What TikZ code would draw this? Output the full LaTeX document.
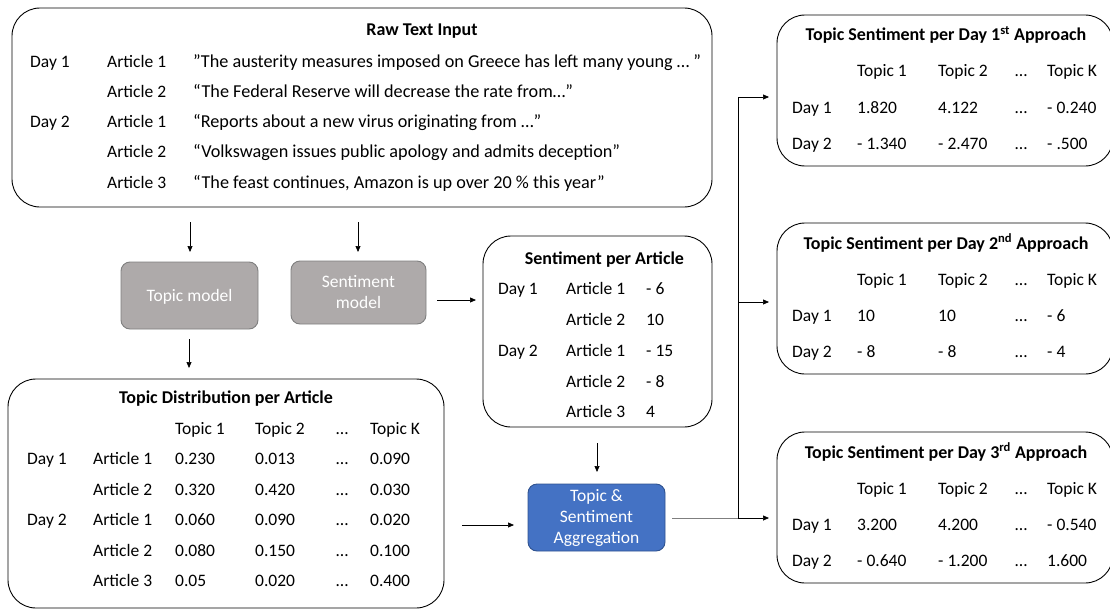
\documentclass[tikz,border=0pt]{standalone}
\usepackage{fontspec}
\setmainfont{Carlito}
\usetikzlibrary{arrows.meta}
\definecolor{graybox}{HTML}{AEAAAA}
\definecolor{grayline}{HTML}{7F7F7F}
\definecolor{bluebox}{HTML}{4472C4}
\definecolor{blueline}{HTML}{2F528F}
\tikzset{
  panel/.style={draw=black, line width=0.9pt, rounded corners=28pt},
  model/.style={draw=grayline, fill=graybox, line width=0.9pt, rounded corners=9pt},
  aggbox/.style={draw=blueline, fill=bluebox, line width=0.9pt, rounded corners=9pt},
  txt/.style={anchor=base west, inner sep=0pt, font=\fontsize{17.5}{20}\selectfont},
  qtxt/.style={anchor=base west, inner sep=0pt, font=\fontsize{18.2}{20}\selectfont},
  ttl/.style={anchor=base, inner sep=0pt, font=\fontsize{18}{20}\selectfont\bfseries},
  wtxt/.style={align=center, text=white, inner sep=0pt, font=\fontsize{17.5}{21}\selectfont},
  arr/.style={-{Triangle[length=6pt,width=5pt]}, line width=0.7pt},
  ln/.style={line width=0.7pt}
}
\newcommand{\approachbox}[9]{%
  % #1 top, #2 ordinal, #3 suffix, #4-#6 day1 values, #7-#9 day2 values
  \draw[panel] (777,#1) rectangle (1113,#1+151);
  \node[ttl] at (946,#1+26) {Topic Sentiment per Day #2\textsuperscript{#3} Approach};
  \node[txt] at (857,#1+62) {Topic 1};
  \node[txt] at (938,#1+62) {Topic 2};
  \node[txt] at (1015,#1+62) {…};
  \node[txt] at (1047,#1+62) {Topic K};
  \node[txt] at (792,#1+98) {Day 1};
  \node[txt] at (857,#1+98) {#4};
  \node[txt] at (938,#1+98) {#5};
  \node[txt] at (1015,#1+98) {…};
  \node[txt] at (1047,#1+98) {#6};
  \node[txt] at (792,#1+134) {Day 2};
  \node[txt] at (857,#1+134) {#7};
  \node[txt] at (938,#1+134) {#8};
  \node[txt] at (1015,#1+134) {…};
  \node[txt] at (1047,#1+134) {#9};
}
\begin{document}
\begin{tikzpicture}[x=1pt,y=-1pt]
\useasboundingbox (0,0) rectangle (1110,610);
% ---------- Raw text input ----------
\draw[panel] (12,8) rectangle (712,207);
\node[ttl] (rawt) at (422,36) {Raw Text Input};
\node[txt] (r1d) at (30,67) {Day 1};
\node[txt] (r1a) at (107,67) {Article 1};
\node[qtxt] (r1q) at (193,67) {”The austerity measures imposed on Greece has left many young … ”};
\node[txt] (r2a) at (107,97) {Article 2};
\node[qtxt] (r2q) at (193,97) {“The Federal Reserve will decrease the rate from…”};
\node[txt] (r3d) at (30,127) {Day 2};
\node[txt] (r3a) at (107,127) {Article 1};
\node[qtxt] (r3q) at (193,127) {“Reports about a new virus originating from …”};
\node[txt] (r4a) at (107,157) {Article 2};
\node[qtxt] (r4q) at (193,157) {“Volkswagen issues public apology and admits deception”};
\node[txt] (r5a) at (107,188) {Article 3};
\node[qtxt] (r5q) at (193,188) {“The feast continues, Amazon is up over 20 \% this year”};
\coordinate (a1s) at (190,222);
\coordinate (a2s) at (358,222);
% ---------- models ----------
\draw[model] (121,262) rectangle (258,329);
\node[wtxt] (topicm) at (189.5,297) {Topic model};
\draw[model] (291,261) rectangle (426,324);
\node[wtxt] (sentm) at (358.5,292.5) {Sentiment\\model};
\coordinate (a1e) at (190,252);
\coordinate (a2e) at (358,252);
\draw[arr] (a1s) -- (a1e);
\draw[arr] (a2s) -- (a2e);
% ---------- Sentiment per article ----------
\draw[panel] (483,236) rectangle (712,427);
\node[ttl] (spat) at (604.5,264) {Sentiment per Article};
\node[txt] at (498,294) {Day 1};
\node[txt] at (566,294) {Article 1};
\node[txt] at (646,294) {- 6};
\node[txt] at (566,325) {Article 2};
\node[txt] at (646,325) {10};
\node[txt] at (498,356) {Day 2};
\node[txt] at (566,356) {Article 1};
\node[txt] at (646,356) {- 15};
\node[txt] at (566,387) {Article 2};
\node[txt] at (646,387) {- 8};
\node[txt] at (566,417) {Article 3};
\node[txt] at (646,417) {4};
\coordinate (s1) at (437,300);
\coordinate (s2) at (476,300);
\draw[arr] (s1) -- (s2);
% ---------- Topic distribution ----------
\coordinate (t1) at (189,339);
\coordinate (t2) at (189,368);
\draw[arr] (t1) -- (t2);
\draw[panel] (8,379) rectangle (444,608);
\node[ttl] (tdt) at (226,403) {Topic Distribution per Article};
\foreach \x/\t in {175/Topic 1,255/Topic 2,336/…,370/Topic K}
  \node[txt] at (\x,434) {\t};
\node[txt] at (27,464) {Day 1};
\node[txt] at (27,525) {Day 2};
\foreach \y/\a/\p/\q/\r in {464/Article 1/0.230/0.013/0.090,
                            495/Article 2/0.320/0.420/0.030,
                            525/Article 1/0.060/0.090/0.020,
                            556/Article 2/0.080/0.150/0.100,
                            586/Article 3/0.05/0.020/0.400}{
  \node[txt] at (93,\y) {\a};
  \node[txt] at (175,\y) {\p};
  \node[txt] at (255,\y) {\q};
  \node[txt] at (336,\y) {…};
  \node[txt] at (370,\y) {\r};
}
% ---------- Aggregation ----------
\coordinate (g1) at (597,443);
\coordinate (g2) at (597,472);
\draw[arr] (g1) -- (g2);
\coordinate (h1) at (462,525);
\coordinate (h2) at (514,525);
\draw[arr] (h1) -- (h2);
\draw[aggbox] (528,484) rectangle (665,551);
\node[wtxt] (agg) at (596.5,517.5) {Topic \&\\Sentiment\\Aggregation};
\coordinate (o1) at (672,518);
\coordinate (o2) at (738,518);
\coordinate (o3) at (738,97);
\coordinate (e1) at (769,97);
\coordinate (o4) at (738,302);
\coordinate (e2) at (769,302);
\coordinate (e3) at (769,518);
\draw[ln,draw=grayline] (o1) -- (o2);
\draw[ln] (o2) -- (o3);
\draw[arr] (o3) -- (e1);
\draw[arr] (o4) -- (e2);
\draw[arr] (o2) -- (e3);
% ---------- Approaches ----------
\approachbox{15}{1}{st}{1.820}{4.122}{- 0.240}{- 1.340}{- 2.470}{- .500}
\approachbox{223}{2}{nd}{10}{10}{- 6}{- 8}{- 8}{- 4}
\approachbox{432}{3}{rd}{3.200}{4.200}{- 0.540}{- 0.640}{- 1.200}{1.600}
\end{tikzpicture}
\end{document}
